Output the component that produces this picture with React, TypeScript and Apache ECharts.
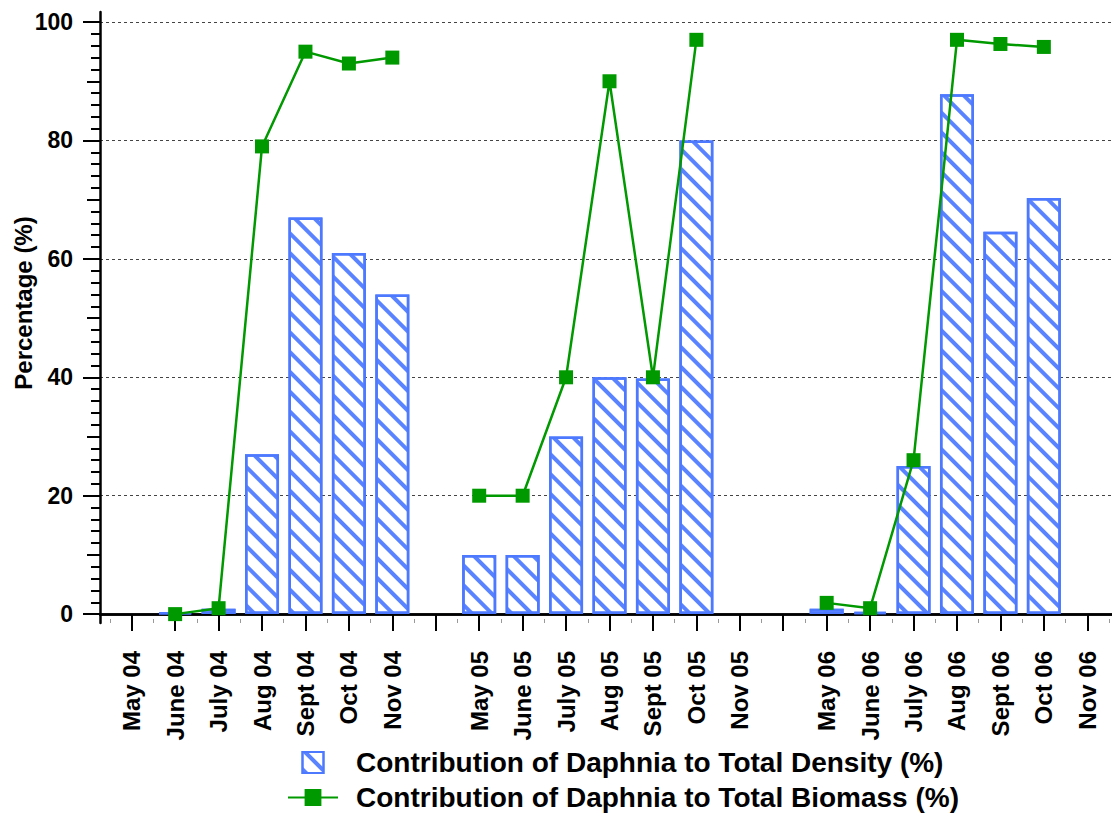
import React, { useEffect, useRef } from "react";
import * as echarts from "echarts";

const categories = [
  "May 04", "June 04", "July 04", "Aug 04", "Sept 04", "Oct 04", "Nov 04", " ",
  "May 05", "June 05", "July 05", "Aug 05", "Sept 05", "Oct 05", "Nov 05", "  ",
  "May 06", "June 06", "July 06", "Aug 06", "Sept 06", "Oct 06", "Nov 06",
];

const densityValues = [
  null, 0.3, 0.9, 27, 67, 61, 54, null,
  10, 10, 30, 40, 39.8, 80, null, null,
  0.9, 0.4, 25, 87.8, 64.6, 70.3, null,
];

const biomassValues = [
  null, 0, 1, 79, 95, 93, 94, null,
  20, 20, 40, 90, 40, 97, null, null,
  1.9, 1, 26, 97, 96.3, 95.8, null,
];

const yMajorTicks = [0, 20, 40, 60, 80, 100];
const yMidTicks = [10, 30, 50, 70, 90];
const yMinorTicks: number[] = [];
for (let v = 2; v < 100; v += 2) if (v % 10 !== 0) yMinorTicks.push(v);

const densityName = "Contribution of Daphnia to Total Density (%)";
const biomassName = "Contribution of Daphnia to Total Biomass (%)";
const yTitle = "Percentage (%)";

const FONT = "'Liberation Sans', Arial, Helvetica, sans-serif";
const BLUE = "#4d79ff";
const GREEN = "#009900";
const Y_MIN = -1.5;
const Y_MAX = 101.7;

export default function App() {
  const ref = useRef<HTMLDivElement>(null);
  useEffect(() => {
    document.body.style.margin = "0";
    const chart = echarts.init(ref.current!, null, { renderer: "svg" });
    const hiddenY = {
      type: "value",
      min: Y_MIN,
      max: Y_MAX,
      gridIndex: 1,
      position: "left",
      offset: 0,
      axisLine: { show: false },
      axisLabel: { show: false },
      splitLine: { show: false },
    };
    chart.setOption({
      animation: false,
      backgroundColor: "#fff",
      textStyle: { fontFamily: FONT },
      grid: [
        { left: 110, right: 3, top: 12, bottom: 191 },
        { left: 100, right: 0, top: 12, bottom: 191 },
      ],
      xAxis: [
        {
          type: "category",
          gridIndex: 0,
          data: categories,
          position: "bottom",
          axisLine: { show: false },
          axisTick: { show: true, alignWithLabel: true, length: 17, lineStyle: { color: "#000", width: 2 } },
          axisLabel: {
            rotate: 90,
            margin: 28,
            interval: 0,
            fontSize: 24,
            fontWeight: "bold",
            color: "#000",
            fontFamily: FONT,
          },
          splitLine: { show: false },
        },
        {
          type: "category",
          gridIndex: 0,
          data: categories,
          position: "bottom",
          axisLine: { show: false },
          axisTick: { show: true, inside: true, interval: 0, length: 4, lineStyle: { color: "#999", width: 1 } },
          axisLabel: { show: false },
          splitLine: { show: false },
        },
        {
          type: "value",
          gridIndex: 1,
          min: 0,
          max: 1,
          position: "bottom",
          axisLine: { show: true, lineStyle: { color: "#000", width: 2.5 } },
          axisTick: { show: false },
          axisLabel: { show: false },
          splitLine: { show: false },
        },
        {
          type: "value",
          gridIndex: 1,
          min: 0,
          max: 1,
          position: "top",
          axisLine: { show: true, lineStyle: { color: "#000", width: 2.5 } },
          axisTick: { show: false },
          axisLabel: { show: false },
          splitLine: { show: false },
        },
      ],
      yAxis: [
        { type: "value", gridIndex: 0, min: Y_MIN, max: Y_MAX, show: false },
        {
          type: "value",
          gridIndex: 1,
          min: Y_MIN,
          max: Y_MAX,
          position: "left",
          axisLine: { show: true, lineStyle: { color: "#000", width: 2.5 } },
          axisTick: { show: true, customValues: yMajorTicks, length: 17, lineStyle: { color: "#000", width: 2 } },
          axisLabel: {
            customValues: yMajorTicks,
            margin: 27,
            fontSize: 23,
            fontWeight: "bold",
            color: "#000",
            fontFamily: FONT,
          },
          splitLine: { show: true, lineStyle: { color: "#444", width: 1, type: [3, 3] } },
        },
        {
          ...hiddenY,
          axisTick: { show: true, customValues: yMidTicks, length: 13, lineStyle: { color: "#000", width: 2 } },
        },
        {
          ...hiddenY,
          axisTick: { show: true, customValues: yMinorTicks, length: 9, lineStyle: { color: "#000", width: 2 } },
        },
      ],
      legend: {
        orient: "vertical",
        left: 287,
        top: 748,
        height: 66,
        itemWidth: 50,
        itemHeight: 21,
        itemGap: 6,
        padding: 0,
        symbolKeepAspect: true,
        textStyle: {
          fontSize: 28,
          lineHeight: 29,
          fontWeight: "bold",
          color: "#000",
          fontFamily: FONT,
          padding: [0, 0, 0, 13],
        },
        data: [
          { name: densityName, icon: "path://M0,0L10,0L10,10L0,10Z" },
          { name: biomassName },
        ],
      },
      graphic: [
        {
          type: "text",
          x: 23,
          y: 303,
          rotation: Math.PI / 2,
          style: {
            text: yTitle,
            fontSize: 24,
            fontWeight: "bold",
            fontFamily: FONT,
            fill: "#000",
            align: "center",
            verticalAlign: "middle",
          },
        },
      ],
      series: [
        {
          name: densityName,
          type: "bar",
          xAxisIndex: 0,
          yAxisIndex: 0,
          data: densityValues,
          barWidth: 34,
          itemStyle: {
            color: "#fff",
            borderColor: BLUE,
            borderWidth: 2.5,
            decal: {
              symbol: "rect",
              symbolSize: 1,
              color: "#5a84ff",
              dashArrayX: [1, 0],
              dashArrayY: [3.5, 9.5],
              rotation: Math.PI / 4,
            },
          },
          z: 2,
        },
        {
          name: biomassName,
          type: "line",
          xAxisIndex: 0,
          yAxisIndex: 0,
          data: biomassValues,
          connectNulls: false,
          symbol: "rect",
          symbolSize: 14,
          lineStyle: { color: GREEN, width: 2.5 },
          itemStyle: { color: GREEN },
          z: 3,
        },
      ],
    });
    return () => chart.dispose();
  }, []);
  return <div ref={ref} style={{ width: 1112, height: 814 }} />;
}
